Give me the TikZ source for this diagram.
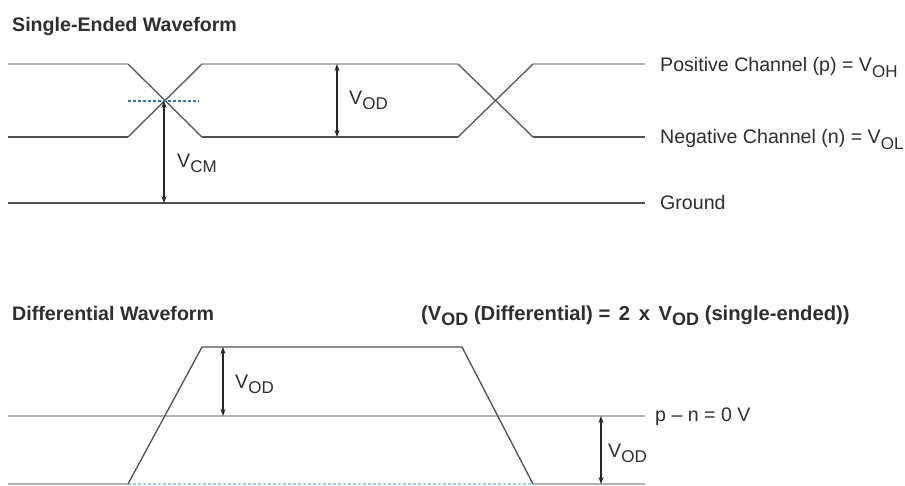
\documentclass[tikz,border=0pt]{standalone}
\usepackage{fontspec}
\setmainfont{Liberation Sans}
\usetikzlibrary{arrows.meta}
\definecolor{txt}{HTML}{2E2E2E}
\definecolor{lgray}{HTML}{B2B2B2}
\definecolor{dgray}{HTML}{505050}
\definecolor{mgray}{HTML}{5E5E5E}
\definecolor{dblue}{HTML}{2B78B5}
\definecolor{lblue}{HTML}{9FCDE8}
\newcommand{\vsubx}[1]{V\raisebox{-0.3em}{\fontsize{17}{17}\selectfont #1}}
\newcommand{\vsubb}[1]{V\raisebox{-0.28em}{\fontsize{18}{18}\selectfont\bfseries #1}}
\begin{document}
\begin{tikzpicture}[x=1pt,y=-1pt,
 lbl/.style={anchor=base west, inner sep=0pt, text=txt, font=\fontsize{19.6}{22}\selectfont},
 ttl/.style={anchor=base west, inner sep=0pt, text=txt, font=\fontsize{19.6}{22}\selectfont\bfseries},
 hiline/.style={draw=lgray, line width=2.3pt},
 loline/.style={draw=dgray, line width=1.6pt},
 thinlo/.style={draw=dgray, line width=1.3pt},
 diag/.style={draw=mgray, line width=1.4pt},
 dimarrow/.style={draw=black!85, line width=1.1pt, {Stealth[length=7pt,width=5pt]}-{Stealth[length=7pt,width=5pt]}},
]
\useasboundingbox[fill=white] (0,0) rectangle (905,485);

% ---------- Single-ended waveform ----------
\node[ttl] (t1) at (12,31.5) {Single-Ended Waveform};

\draw[hiline] (8,64) -- (128,64);
\draw[hiline] (202,64) -- (458,64);
\draw[hiline] (533,64) -- (645,64);
\draw[loline] (8,137) -- (128,137);
\draw[loline] (202,137) -- (458,137);
\draw[loline] (533,137) -- (645,137);
\draw[diag] (128,64) -- (202,137);
\draw[diag] (128,137) -- (202,64);
\draw[diag] (458,64) -- (533,137);
\draw[diag] (458,137) -- (533,64);
\draw[loline] (8,203) -- (645,203);
\draw[dblue, line width=1.2pt, dash pattern=on 3pt off 2pt] (128,101) -- (199,101);

\coordinate (odT) at (337,64);
\coordinate (odB) at (337,137);
\coordinate (cmT) at (164,101);
\coordinate (cmB) at (164,203);
\draw[dimarrow] (odT) -- (odB);
\draw[dimarrow] (cmT) -- (cmB);

\node[lbl] (lod1) at (349,104) {\vsubx{OD}};
\node[lbl] (lcm) at (177,167) {\vsubx{CM}};
\node[lbl] (lp) at (660,71.5) {Positive Channel (p) = \vsubx{OH}};
\node[lbl] (ln) at (660,143.5) {Negative Channel (n) = \vsubx{OL}};
\node[lbl] (lg) at (660,209.5) {Ground};

% ---------- Differential waveform ----------
\node[ttl] (t2) at (12,320) {Differential Waveform};
\node[ttl, font=\fontsize{20.2}{22}\selectfont\bfseries] (t3) at (421,320) {(\vsubb{OD} (Differential) = \hspace{3pt}2 \hspace{3pt}x \hspace{3pt}\vsubb{OD} (single-ended))};

\draw[hiline] (8,416) -- (645,416);
\draw[lgray, line width=1.6pt] (8,484) -- (128,484);
\draw[lgray, line width=1.6pt] (533,484) -- (645,484);
\draw[lblue, line width=1.2pt, dash pattern=on 3pt off 2pt] (128,484) -- (533,484);
\draw[thinlo] (128,484) -- (202,347) -- (462,347) -- (533,484);

\coordinate (d1T) at (223,347);
\coordinate (d1B) at (223,416);
\coordinate (d2T) at (601,416);
\coordinate (d2B) at (601,484);
\draw[dimarrow] (d1T) -- (d1B);
\draw[dimarrow] (d2T) -- (d2B);

\node[lbl] (lod2) at (235,388) {\vsubx{OD}};
\node[lbl] (lod3) at (608,457) {\vsubx{OD}};
\node[lbl] (lz) at (655,421) {p -- n = 0 V};
\end{tikzpicture}
\end{document}
